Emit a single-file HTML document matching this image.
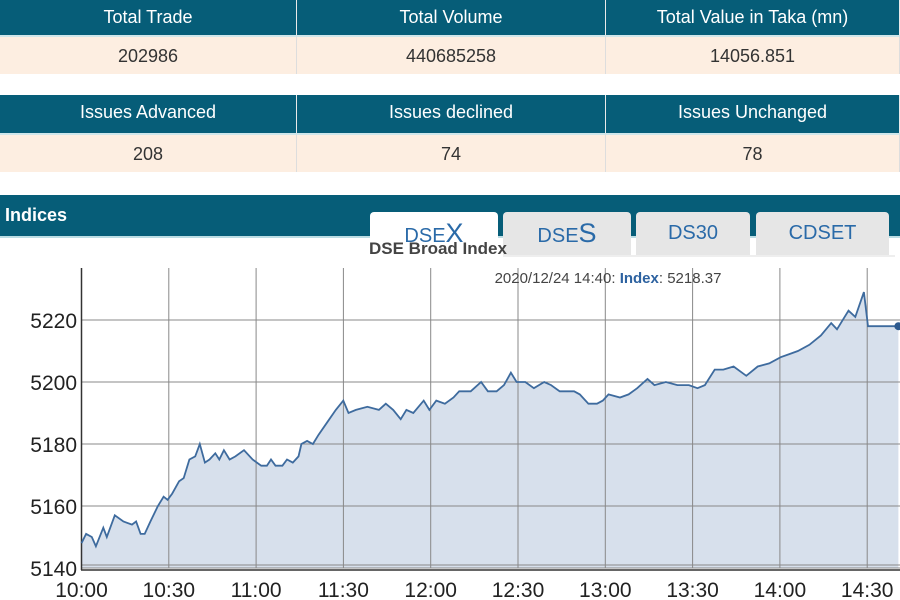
<!DOCTYPE html>
<html><head><meta charset="utf-8"><style>
body{margin:0;width:900px;height:600px;overflow:hidden;background:#fff;font-family:"Liberation Sans",Arial,sans-serif;position:relative}
.abs{position:absolute}
.hd{background:#065d78;color:#fff;font-size:18px;text-align:center;line-height:35px;height:35px;border-right:1px solid #e9e9e9;box-sizing:border-box}
.vl{background:#fdeee1;color:#333;font-size:18px;text-align:center;line-height:39px;height:39px;border-right:1px solid #ddd;box-sizing:border-box;border-top:2px solid #cfe6ea}
.tab{position:absolute;top:212px;height:43px;background:#e6e6e6;border-radius:4px 4px 0 0;color:#2a6aa8;font-size:20px;text-align:center;line-height:42px}
</style></head><body>
<div class="abs hd" style="left:0;top:0;width:297px">Total Trade</div>
<div class="abs hd" style="left:297px;top:0;width:309px">Total Volume</div>
<div class="abs hd" style="left:606px;top:0;width:294px">Total Value in Taka (mn)</div>
<div class="abs vl" style="left:0;top:35px;width:297px">202986</div>
<div class="abs vl" style="left:297px;top:35px;width:309px">440685258</div>
<div class="abs vl" style="left:606px;top:35px;width:294px">14056.851</div>
<div class="abs hd" style="left:0;top:95px;width:297px;height:38px;line-height:34px">Issues Advanced</div>
<div class="abs hd" style="left:297px;top:95px;width:309px;height:38px;line-height:34px">Issues declined</div>
<div class="abs hd" style="left:606px;top:95px;width:294px;height:38px;line-height:34px">Issues Unchanged</div>
<div class="abs vl" style="left:0;top:133px;width:297px">208</div>
<div class="abs vl" style="left:297px;top:133px;width:309px">74</div>
<div class="abs vl" style="left:606px;top:133px;width:294px">78</div>
<div class="abs" style="left:0;top:195px;width:900px;height:41px;background:#065d78;border-bottom:2px solid #bcdde4"></div>
<div class="abs" style="left:5px;top:205px;color:#fff;font-size:18px;font-weight:bold">Indices</div>
<div class="tab" style="left:370px;width:128px;background:#fff">DSE<span style="font-size:27px">X</span></div>
<div class="tab" style="left:503px;width:128px">DSE<span style="font-size:27px">S</span></div>
<div class="tab" style="left:636px;width:114px">DS30</div>
<div class="tab" style="left:756px;width:133px">CDSET</div>
<div class="abs" style="left:503px;top:255px;width:392px;height:2px;background:#eee"></div>
<div class="abs" style="left:369px;top:239px;font-size:17px;font-weight:bold;color:#444">DSE Broad Index</div>
<svg class="abs" style="left:0;top:0" width="900" height="600" id="s"></svg>
<script>
var pts=[[142,5148],[150,5151],[160,5150],[167,5147],[180,5153],[186,5150],[200,5157],[215,5155],[230,5154],[237,5155],[245,5151],[252,5151],[262,5155],[275,5160],[285,5163],[292,5162],[300,5164],[312,5168],[320,5169],[330,5175],[340,5176],[348,5180],[357,5174],[365,5175],[375,5177],[382,5175],[390,5178],[400,5175],[410,5176],[425,5178],[440,5175],[455,5173],[465,5173],[472,5175],[480,5173],[492,5173],[500,5175],[510,5174],[520,5176],[525,5180],[535,5181],[545,5180],[555,5183],[570,5187],[585,5191],[598,5194],[607,5190],[620,5191],[640,5192],[660,5191],[672,5193],[685,5191],[698,5188],[708,5191],[720,5190],[738,5194],[748,5191],[760,5194],[775,5193],[790,5195],[800,5197],[820,5197],[838,5200],[850,5197],[865,5197],[878,5199],[890,5203],[900,5200],[915,5200],[930,5198],[948,5200],[960,5199],[975,5197],[1000,5197],[1010,5196],[1025,5193],[1040,5193],[1050,5194],[1060,5196],[1080,5195],[1095,5196],[1110,5198],[1128,5201],[1140,5199],[1160,5200],[1180,5199],[1200,5199],[1215,5198],[1228,5199],[1245,5204],[1260,5204],[1278,5205],[1300,5202],[1320,5205],[1340,5206],[1360,5208],[1375,5209],[1390,5210],[1410,5212],[1430,5215],[1448,5219],[1458,5217],[1478,5223],[1490,5221],[1505,5229],[1512,5218],[1565,5218]];
function X(z){return z/1.742}function Y(v){return 568-(v-5140)*3.1}
var h='',i;
var d=pts.map(function(p,i){return (i?'L':'M')+X(p[0]).toFixed(1)+','+Y(p[1]).toFixed(1)}).join('');
h+='<path d="'+d+'L'+X(1565)+',568L'+X(142)+',568Z" fill="#d7e0ec"/>';
for(i=0;i<10;i++){var x=81.5+i*87.3;h+='<line x1="'+x+'" y1="268" x2="'+x+'" y2="568" stroke="#888" stroke-width="1"/>';
var l=['10:00','10:30','11:00','11:30','12:00','12:30','13:00','13:30','14:00','14:30'][i];h+='<text x="'+x+'" y="597" font-size="21" text-anchor="middle" fill="#222" font-family="Liberation Sans">'+l+'</text>';}
for(i=0;i<5;i++){var v=5140+20*i,y=Y(v);h+='<line x1="81" y1="'+y+'" x2="900" y2="'+y+'" stroke="#888"/>';
h+='<text x="77" y="'+(y+8)+'" font-size="21" text-anchor="end" fill="#222" font-family="Liberation Sans">'+v+'</text>';}
h+='<line x1="81" y1="565" x2="900" y2="565" stroke="#888"/><line x1="81" y1="570" x2="900" y2="570" stroke="#666" stroke-width="2"/>';
h+='<line x1="81.5" y1="268" x2="81.5" y2="570" stroke="#333" stroke-width="1.5"/>';
h+='<path d="'+d+'" fill="none" stroke="#3e6b9e" stroke-width="1.8"/>';
h+='<circle cx="'+X(1565)+'" cy="'+Y(5218)+'" r="4" fill="#2e5a8e"/>';
h+='<text x="608" y="283" font-size="15" text-anchor="middle" fill="#444" font-family="Liberation Sans">2020/12/24 14:40: <tspan fill="#2d62a0" font-weight="bold">Index</tspan>: 5218.37</text>';
document.getElementById('s').innerHTML=h;
</script>
</body></html>
